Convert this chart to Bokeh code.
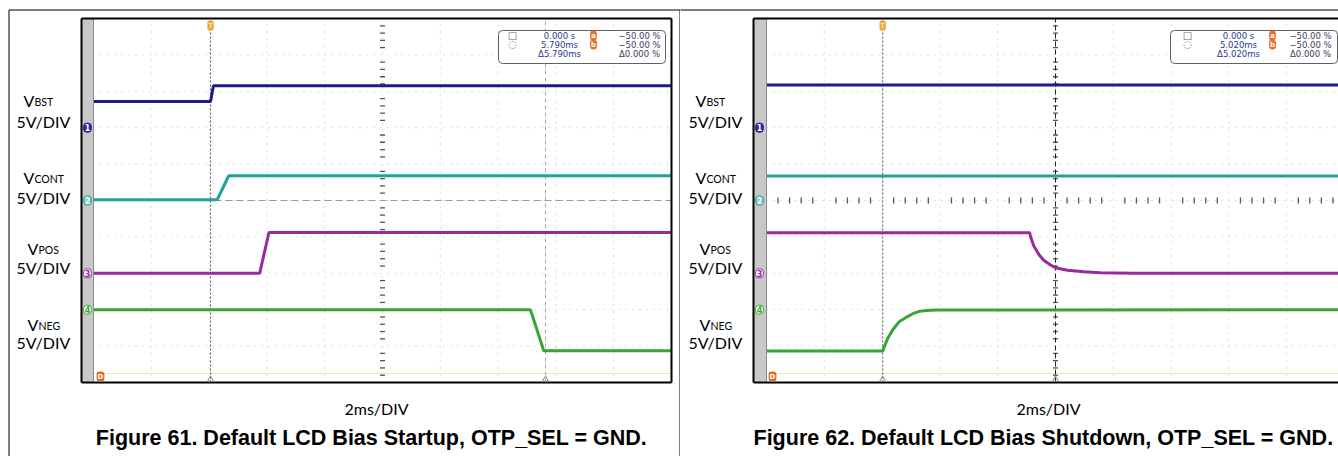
import math
from bokeh.plotting import figure
from bokeh.models import BoxAnnotation, Label, Range1d, ColumnDataSource
from bokeh.layouts import row
from bokeh.embed import file_html
from bokeh.resources import INLINE

# ---------------- data ----------------
channels = ["BST", "CONT", "POS", "NEG"]
channel_numbers = ["1", "2", "3", "4"]
channel_offsets_div = [7, 5, 3, 2]        # ground marker position, divisions from bottom
volts_per_div = 5
ms_per_div = 2
n_xdiv = 10
n_ydiv = 10

# Figure 61: startup (time in ms, voltage in V)
f61_bst_t = [0, 4.05, 4.15, 20]
f61_bst_v = [3.6, 3.6, 5.75, 5.75]
f61_cont_t = [0, 4.28, 4.68, 20]
f61_cont_v = [0.1, 0.1, 3.4, 3.4]
f61_pos_t = [0, 5.75, 6.07, 20]
f61_pos_v = [0.0, 0.0, 5.6, 5.6]
f61_neg_t = [0, 15.12, 15.58, 20]
f61_neg_v = [0.0, 0.0, -5.65, -5.65]

# Figure 62: shutdown
f62_bst_t = [0, 20]
f62_bst_v = [5.85, 5.85]
f62_cont_t = [0, 20]
f62_cont_v = [3.35, 3.35]
f62_pos_t = [0, 9.11, 9.13, 9.25, 9.42, 9.59, 9.83, 10.0, 10.41, 10.98, 11.56, 12.7, 20]
f62_pos_v = [5.58, 5.58, 5.08, 3.75, 2.61, 1.79, 1.14, 0.77, 0.41, 0.22, 0.08, 0.0, 0.0]
f62_neg_t = [0, 4.02, 4.08, 4.20, 4.37, 4.60, 4.83, 5.06, 5.29, 5.53, 5.87, 20]
f62_neg_v = [-5.69, -5.69, -5.04, -3.90, -2.75, -1.61, -1.06, -0.55, -0.23, -0.10, -0.05, 0.0]

f61_cursor_a, f61_cursor_b = 4.05, 15.64
f62_cursor_a, f62_cursor_b = 4.02, 10.0

f61_readout_time = ["0.000 s", "5.790ms", "\u03945.790ms"]
f62_readout_time = ["0.000 s", "5.020ms", "\u03945.020ms"]
readout_level = ["\u221250.00 %", "\u221250.00 %", "\u03940.000 %"]

captions = ["Figure 61. Default LCD Bias Startup, OTP_SEL = GND.",
            "Figure 62. Default LCD Bias Shutdown, OTP_SEL = GND."]
time_label = "2ms/DIV"
scale_label = "5V/DIV"

colors = ["#1b1b8e", "#1ea596", "#9a2a9c", "#36a534"]

# ---------------- layout constants (pixels) ----------------
H = 456
SCOPE_TOP = 18
SCOPE_BOTTOM = 382
PX_DIV_X = 57.8
PX_DIV_Y = (SCOPE_BOTTOM - SCOPE_TOP) / n_ydiv
FONT_L = "Lato"
GRID_COL = "#bdbdbd"


def make_panel(W, base, strip_rel, t0_rel, traces, cur_a, cur_b, read_t, caption,
               left_panel, cols_x):
    mpp = ms_per_div / PX_DIV_X
    t0c = base + t0_rel
    x_start = (0 - t0c) * mpp
    x_end = (W - t0c) * mpp
    t_end = ms_per_div * n_xdiv

    def tx(rel):          # panel-relative pixel x -> data x (ms)
        return (base + rel - t0c) * mpp

    def ty(ys):           # pixel y from top -> data y (divisions)
        return (SCOPE_BOTTOM - ys) / PX_DIV_Y

    p = figure(width=W, height=H, x_range=Range1d(x_start, x_end),
               y_range=Range1d(ty(H), ty(0)),
               x_axis_type=None, y_axis_type=None, toolbar_location=None,
               output_backend="svg", title=None,
               min_border_left=0, min_border_right=0, min_border_top=0, min_border_bottom=0)
    p.background_fill_color = "white"
    p.border_fill_color = "white"
    p.outline_line_color = None
    p.xgrid.visible = False
    p.ygrid.visible = False

    # scope grid (dotted)
    xt = [ms_per_div * i for i in range(1, n_xdiv)]
    yt = [i for i in range(1, n_ydiv)]
    p.segment(x0=xt, y0=[0] * len(xt), x1=xt, y1=[n_ydiv] * len(xt),
              line_color=GRID_COL, line_dash="1 6", line_width=1)
    p.segment(x0=[0] * len(yt), y0=yt, x1=[t_end] * len(yt), y1=yt,
              line_color=GRID_COL, line_dash="1 6", line_width=1)

    # center axes minor ticks
    xc = ms_per_div * n_xdiv / 2
    yc = n_ydiv / 2
    minor_y = [i * 0.2 for i in range(1, n_ydiv * 5) if i % 5]
    minor_x = [i * ms_per_div * 0.2 for i in range(1, n_xdiv * 5) if i % 5]
    p.scatter(x=[xc] * len(minor_y), y=minor_y, marker="dash", size=5, line_color="#555555",
              line_width=1.3)
    if left_panel:
        p.segment(x0=[0], y0=[yc], x1=[t_end], y1=[yc], line_color="#9a9a9a",
                  line_dash="7 4", line_width=1)
    else:
        p.scatter(x=minor_x, y=[yc] * len(minor_x), marker="dash", angle=math.pi / 2, size=6,
                  line_color="#555555", line_width=1.3)

    # faint reference line
    p.segment(x0=[0], y0=[ty(373)], x1=[t_end], y1=[ty(373)], line_color="#efe8a0",
              line_width=1)

    # cursors
    p.segment(x0=[cur_a], y0=[0], x1=[cur_a], y1=[n_ydiv], line_color="#555555",
              line_dash="2 2", line_width=1)
    if left_panel:
        p.segment(x0=[cur_b], y0=[0], x1=[cur_b], y1=[n_ydiv], line_color="#a8a8a8",
                  line_dash="4 3", line_width=1)
    else:
        p.segment(x0=[cur_b], y0=[0], x1=[cur_b], y1=[n_ydiv], line_color="#222222",
                  line_dash="5 3", line_width=1)

    # traces
    for (t, v), off, col in zip(traces, channel_offsets_div, colors):
        y = [off + vv / volts_per_div for vv in v]
        src = ColumnDataSource(dict(t=t, y=y))
        p.line("t", "y", source=src, line_color=col, line_width=3)

    # grey strip and scope frame
    xs = tx(strip_rel)
    p.quad(left=[xs], right=[0], top=[n_ydiv], bottom=[0], fill_color="#c8c8c8",
           line_color=None)
    p.segment(x0=[0], y0=[0], x1=[0], y1=[n_ydiv], line_color="#8c8c8c", line_width=1)
    p.segment(x0=[xs, xs, xs, t_end], y0=[0, n_ydiv, 0, 0],
              x1=[t_end, t_end, xs, t_end], y1=[0, n_ydiv, n_ydiv, n_ydiv],
              line_color="black", line_width=2)

    # channel markers
    marker_fill = ["#2a2a9a", "#7fd3cc", "white", "white"]
    marker_text = ["white", "white", colors[2], colors[3]]
    for num, off, fc, tc, col in zip(channel_numbers, channel_offsets_div, marker_fill,
                                     marker_text, colors):
        p.add_layout(Label(x=tx(79), y=off, text=num, text_align="center",
                           text_baseline="middle", text_font_size="8px", text_color=tc,
                           text_font="DejaVu Sans", text_font_style="bold",
                           background_fill_color=fc, border_line_color=col,
                           border_line_width=1, padding=1, border_radius=3))

    # trigger + D markers
    p.add_layout(Label(x=cur_a, y=ty(25), text="T", text_align="center", text_baseline="middle",
                       text_font_size="7px", text_color="white", text_font="DejaVu Sans",
                       background_fill_color="#f0a63a", padding=1, border_radius=2))
    p.add_layout(Label(x=tx(92), y=ty(376), text="D", text_align="center", text_baseline="middle",
                       text_font_size="7px", text_color="white", text_font="DejaVu Sans",
                       text_font_style="bold",
                       background_fill_color="#e5672b", padding=1, border_radius=3))
    p.scatter(x=[cur_a, cur_b], y=[ty(379), ty(379)], marker="triangle", size=6,
              fill_color=None, line_color="#8a8a8a")

    # measurement box
    p.add_layout(BoxAnnotation(left=tx(490), right=tx(657), top=ty(30), bottom=ty(63),
                               fill_color="white", fill_alpha=1, line_color="#606060",
                               line_alpha=1, line_width=1, border_radius=4))
    icons = ["\u25a1", "\u25cc"]
    rows_y = [35, 44, 53]
    for ic, ry in zip(icons, rows_y):
        p.add_layout(Label(x=tx(cols_x[0]), y=ty(ry), text=ic, text_align="center",
                           text_baseline="middle", text_font_size="10px", text_color="#666666",
                           text_font="DejaVu Sans"))
    for txt, ry in zip(read_t, rows_y):
        p.add_layout(Label(x=tx(cols_x[1]), y=ty(ry), text=txt, text_align="center",
                           text_baseline="middle", text_font_size="8.5px", text_color="#2b3a8f",
                           text_font="DejaVu Sans"))
    for letter, ry in zip(["a", "b"], rows_y[:2]):
        p.add_layout(Label(x=tx(cols_x[2]), y=ty(ry), text=letter, text_align="center",
                           text_baseline="middle", text_font_size="7px", text_color="white",
                           text_font="DejaVu Sans", text_font_style="bold",
                           background_fill_color="#e8702a", padding=1, border_radius=5))
    for txt, ry in zip(readout_level, rows_y):
        p.add_layout(Label(x=tx(cols_x[3]), y=ty(ry), text=txt, text_align="center",
                           text_baseline="middle", text_font_size="8.5px", text_color="#3c3c5c",
                           text_font="DejaVu Sans"))

    # channel labels
    label_pos = [(15, 100, 121), (15, 177, 197), (19, 248, 267), (19, 324, 342)]
    for name, (vx, vb, sb) in zip(channels, label_pos):
        p.add_layout(Label(x=tx(vx), y=ty(vb), text="V", text_align="left",
                           text_baseline="alphabetic", text_font_size="16px",
                           text_font=FONT_L, text_color="black"))
        p.add_layout(Label(x=tx(vx + 11), y=ty(vb + 1), text=name, text_align="left",
                           text_baseline="alphabetic", text_font_size="10.5px",
                           text_font=FONT_L, text_color="black"))
        p.add_layout(Label(x=tx(8), y=ty(sb), text=scale_label, text_align="left",
                           text_baseline="alphabetic", text_font_size="16px",
                           text_font=FONT_L, text_color="black"))

    p.add_layout(Label(x=tx(368), y=ty(408), text=time_label, text_align="center",
                       text_baseline="alphabetic", text_font_size="16px",
                       text_font=FONT_L, text_color="black"))
    p.add_layout(Label(x=tx(363), y=ty(437), text=caption, text_align="center",
                       text_baseline="alphabetic", text_font_size="21.5px",
                       text_font="Liberation Sans", text_font_style="bold",
                       text_color="black"))

    # outer page box (open at the bottom)
    top = ty(9.5)
    bot = ty(H + 5)
    if left_panel:
        lx, rx = tx(0.5), tx(671.5)
        p.segment(x0=[lx, lx, rx], y0=[top, top, top], x1=[rx, lx, rx], y1=[top, bot, bot],
                  line_color="black", line_width=1)
    else:
        p.segment(x0=[x_start - 1], y0=[top], x1=[x_end + 1], y1=[top],
                  line_color="black", line_width=1)
    return p


p1 = make_panel(680, 8, 73, 85,
                [(f61_bst_t, f61_bst_v), (f61_cont_t, f61_cont_v), (f61_pos_t, f61_pos_v),
                 (f61_neg_t, f61_neg_v)],
                f61_cursor_a, f61_cursor_b, f61_readout_time, captions[0], True,
                (504, 551, 585, 631))
p2 = make_panel(658, 0, 73, 86,
                [(f62_bst_t, f62_bst_v), (f62_cont_t, f62_cont_v), (f62_pos_t, f62_pos_v),
                 (f62_neg_t, f62_neg_v)],
                f62_cursor_a, f62_cursor_b, f62_readout_time, captions[1], False,
                (507, 558, 592, 630))

layout = row(p1, p2, spacing=0)
open("out.html", "w").write(file_html(layout, INLINE))
